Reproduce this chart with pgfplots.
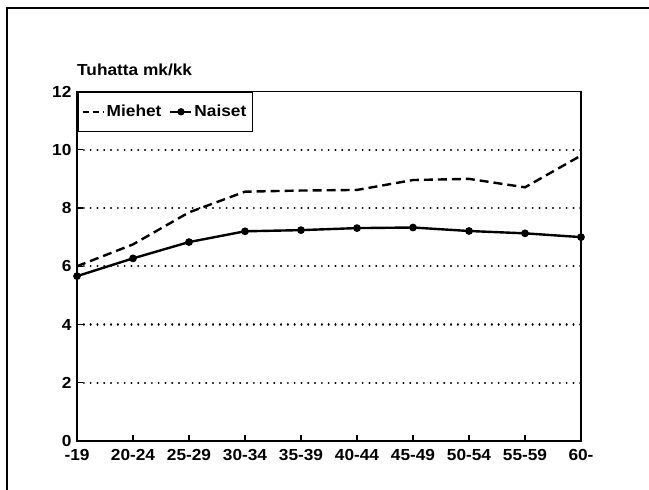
\documentclass[border=0pt]{standalone}
\usepackage{fontspec}
\setmainfont{Liberation Sans}[FakeStretch=1.08]
\usepackage{pgfplots}
\pgfplotsset{compat=1.18}
\begin{document}
\begin{tikzpicture}[x=1pt,y=1pt]
\path[use as bounding box] (0,0) rectangle (649,490);
\draw[line width=1.8pt] (7,0) -- (7,482) -- (649,482);
\begin{axis}[
  at={(77pt,49pt)}, anchor=south west,
  scale only axis, width=504pt, height=349.5pt,
  xmin=0, xmax=9, ymin=0, ymax=12,
  xtick={0,...,9},
  xticklabels={-19,20-24,25-29,30-34,35-39,40-44,45-49,50-54,55-59,60-},
  ytick={0,2,...,10},
  extra y ticks={12},
  extra y tick style={grid=none},
  tick pos=left, tick align=inside, major tick length=6pt,
  axis line style={line width=1.9pt},
  every tick/.style={line width=1.2pt, black},
  axis on top,
  ymajorgrids,
  grid style={line width=2.1pt, dash pattern=on 0.1pt off 6.7pt, line cap=round, black},
  font=\fontsize{16pt}{19pt}\selectfont\bfseries,
  ticklabel style={font=\fontsize{16pt}{19pt}\selectfont\bfseries},
  xticklabel style={yshift=-5pt},
  yticklabel style={xshift=-2pt},
  /pgf/number format/assume math mode=true,
  clip=false,
  legend columns=2,
  legend style={at={(0,1)}, anchor=north west, draw=black, line width=1.5pt,
    inner xsep=4pt, inner ysep=11pt,
    font=\fontsize{16pt}{19pt}\selectfont\bfseries,
    /tikz/every even column/.append style={column sep=6pt}},
]
\addplot[black, line width=2.4pt, dash pattern=on 9pt off 5pt,
  legend image code/.code={\draw[black, line width=2pt, dash pattern=on 6pt off 4pt] (0pt,0pt) -- (21pt,0pt);}]
  coordinates {(0,6.0) (1,6.75) (2,7.85) (3,8.56) (4,8.6) (5,8.62) (6,8.96) (7,9.0) (8,8.71) (9,9.8)};
\addlegendentry{Miehet}
\addplot[black, line width=2.4pt, mark=*, mark size=2.6pt,
  legend image code/.code={\draw[black, line width=2pt] (0pt,0pt) -- (21pt,0pt); \fill[black] (10.5pt,0pt) circle (2.4pt);}]
  coordinates {(0,5.66) (1,6.27) (2,6.83) (3,7.2) (4,7.24) (5,7.31) (6,7.33) (7,7.21) (8,7.13) (9,7.0)};
\addlegendentry{Naiset}
\node[anchor=west, inner sep=0pt, font=\fontsize{16pt}{19pt}\selectfont\bfseries] at ([yshift=21.5pt]rel axis cs:0,1) {Tuhatta mk/kk};
\end{axis}
\end{tikzpicture}
\end{document}
